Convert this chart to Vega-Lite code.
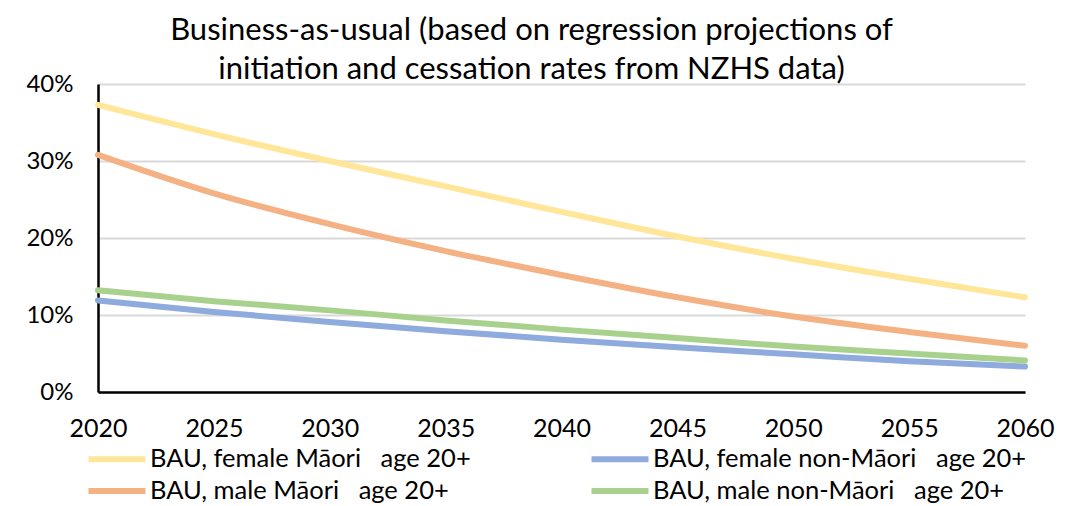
{
  "$schema": "https://vega.github.io/schema/vega-lite/v6.json",
  "autosize": "none",
  "width": 927,
  "height": 308,
  "padding": {"left": 98, "top": 84, "right": 45, "bottom": 114},
  "background": "white",
  "config": {
    "font": "Lato",
    "view": {"stroke": null}
  },
  "title": {
    "text": ["Business-as-usual (based on regression projections of", "initiation and cessation rates from NZHS data)"],
    "fontSize": 31,
    "fontWeight": "normal",
    "color": "#000000",
    "anchor": "middle",
    "dx": -30,
    "offset": -14,
    "lineHeight": 39
  },
  "data": {
    "values": [
      {"year": 2020, "series": "BAU, female Māori\u00a0\u00a0\u00a0age 20+", "rate": 0.373},
      {"year": 2025, "series": "BAU, female Māori\u00a0\u00a0\u00a0age 20+", "rate": 0.335},
      {"year": 2030, "series": "BAU, female Māori\u00a0\u00a0\u00a0age 20+", "rate": 0.300},
      {"year": 2035, "series": "BAU, female Māori\u00a0\u00a0\u00a0age 20+", "rate": 0.267},
      {"year": 2040, "series": "BAU, female Māori\u00a0\u00a0\u00a0age 20+", "rate": 0.234},
      {"year": 2045, "series": "BAU, female Māori\u00a0\u00a0\u00a0age 20+", "rate": 0.202},
      {"year": 2050, "series": "BAU, female Māori\u00a0\u00a0\u00a0age 20+", "rate": 0.173},
      {"year": 2055, "series": "BAU, female Māori\u00a0\u00a0\u00a0age 20+", "rate": 0.147},
      {"year": 2060, "series": "BAU, female Māori\u00a0\u00a0\u00a0age 20+", "rate": 0.123},
      {"year": 2020, "series": "BAU, female non-Māori\u00a0\u00a0\u00a0age 20+", "rate": 0.119},
      {"year": 2025, "series": "BAU, female non-Māori\u00a0\u00a0\u00a0age 20+", "rate": 0.104},
      {"year": 2030, "series": "BAU, female non-Māori\u00a0\u00a0\u00a0age 20+", "rate": 0.091},
      {"year": 2035, "series": "BAU, female non-Māori\u00a0\u00a0\u00a0age 20+", "rate": 0.079},
      {"year": 2040, "series": "BAU, female non-Māori\u00a0\u00a0\u00a0age 20+", "rate": 0.068},
      {"year": 2045, "series": "BAU, female non-Māori\u00a0\u00a0\u00a0age 20+", "rate": 0.058},
      {"year": 2050, "series": "BAU, female non-Māori\u00a0\u00a0\u00a0age 20+", "rate": 0.049},
      {"year": 2055, "series": "BAU, female non-Māori\u00a0\u00a0\u00a0age 20+", "rate": 0.040},
      {"year": 2060, "series": "BAU, female non-Māori\u00a0\u00a0\u00a0age 20+", "rate": 0.033},
      {"year": 2020, "series": "BAU, male Māori\u00a0\u00a0\u00a0age 20+", "rate": 0.308},
      {"year": 2025, "series": "BAU, male Māori\u00a0\u00a0\u00a0age 20+", "rate": 0.258},
      {"year": 2030, "series": "BAU, male Māori\u00a0\u00a0\u00a0age 20+", "rate": 0.218},
      {"year": 2035, "series": "BAU, male Māori\u00a0\u00a0\u00a0age 20+", "rate": 0.183},
      {"year": 2040, "series": "BAU, male Māori\u00a0\u00a0\u00a0age 20+", "rate": 0.152},
      {"year": 2045, "series": "BAU, male Māori\u00a0\u00a0\u00a0age 20+", "rate": 0.123},
      {"year": 2050, "series": "BAU, male Māori\u00a0\u00a0\u00a0age 20+", "rate": 0.098},
      {"year": 2055, "series": "BAU, male Māori\u00a0\u00a0\u00a0age 20+", "rate": 0.078},
      {"year": 2060, "series": "BAU, male Māori\u00a0\u00a0\u00a0age 20+", "rate": 0.060},
      {"year": 2020, "series": "BAU, male non-Māori\u00a0\u00a0\u00a0age 20+", "rate": 0.132},
      {"year": 2025, "series": "BAU, male non-Māori\u00a0\u00a0\u00a0age 20+", "rate": 0.118},
      {"year": 2030, "series": "BAU, male non-Māori\u00a0\u00a0\u00a0age 20+", "rate": 0.106},
      {"year": 2035, "series": "BAU, male non-Māori\u00a0\u00a0\u00a0age 20+", "rate": 0.093},
      {"year": 2040, "series": "BAU, male non-Māori\u00a0\u00a0\u00a0age 20+", "rate": 0.081},
      {"year": 2045, "series": "BAU, male non-Māori\u00a0\u00a0\u00a0age 20+", "rate": 0.070},
      {"year": 2050, "series": "BAU, male non-Māori\u00a0\u00a0\u00a0age 20+", "rate": 0.059},
      {"year": 2055, "series": "BAU, male non-Māori\u00a0\u00a0\u00a0age 20+", "rate": 0.050},
      {"year": 2060, "series": "BAU, male non-Māori\u00a0\u00a0\u00a0age 20+", "rate": 0.041}
    ]
  },
  "mark": {"type": "line", "strokeWidth": 6, "interpolate": "monotone", "strokeCap": "round"},
  "encoding": {
    "x": {
      "field": "year",
      "type": "quantitative",
      "scale": {"domain": [2020, 2060], "nice": false, "zero": false},
      "axis": {
        "title": null,
        "values": [2020, 2025, 2030, 2035, 2040, 2045, 2050, 2055, 2060],
        "format": "d",
        "grid": false,
        "ticks": false,
        "domainColor": "#000000",
        "domainWidth": 2.5,
        "labelFontSize": 25,
        "labelColor": "#000000",
        "labelPadding": 24,
        "labelFlush": false
      }
    },
    "y": {
      "field": "rate",
      "type": "quantitative",
      "scale": {"domain": [0, 0.4], "nice": false},
      "axis": {
        "title": null,
        "values": [0, 0.1, 0.2, 0.3, 0.4],
        "format": ".0%",
        "grid": true,
        "gridColor": "#d9d9d9",
        "gridWidth": 2,
        "ticks": false,
        "domainColor": "#000000",
        "domainWidth": 2.5,
        "labelFontSize": 24,
        "labelColor": "#000000",
        "labelPadding": 25
      }
    },
    "color": {
      "field": "series",
      "type": "nominal",
      "scale": {
        "domain": ["BAU, female Māori\u00a0\u00a0\u00a0age 20+", "BAU, male Māori\u00a0\u00a0\u00a0age 20+", "BAU, female non-Māori\u00a0\u00a0\u00a0age 20+", "BAU, male non-Māori\u00a0\u00a0\u00a0age 20+"],
        "range": ["#FFE699", "#F4B183", "#8FAADC", "#A9D18E"]
      },
      "legend": {
        "title": null,
        "orient": "none",
        "legendX": 1,
        "legendY": 357,
        "columns": 2,
        "columnPadding": 108,
        "rowPadding": 0,
        "symbolType": "M-1.9,0H1.9",
        "symbolSize": 900,
        "symbolStrokeWidth": 6,
        "labelFontSize": 25.5,
        "labelColor": "#000000",
        "labelOffset": 15,
        "labelLimit": 600
      }
    }
  }
}
